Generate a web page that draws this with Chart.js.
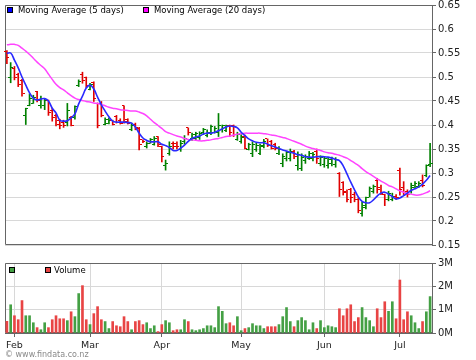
<!DOCTYPE html>
<html>
<head>
<meta charset="utf-8">
<script src="https://cdn.jsdelivr.net/npm/chart.js@4.4.1/dist/chart.umd.min.js"></script>
<style>
  html, body { margin: 0; padding: 0; background: #fff; }
  #wrap { position: relative; width: 476px; height: 360px; overflow: hidden; font-family: "DejaVu Sans", Verdana, sans-serif; }
  canvas { position: absolute; left: 0; }
  #price { top: 0; }
  #volume { top: 250px; }
  .sw { position: absolute; width: 4px; height: 4px; border: 1px solid #000; }
  .txt { position: absolute; font-size: 8.5px; line-height: 10px; color: #000; white-space: nowrap; }
  #footer { position: absolute; left: 5px; top: 350px; font-size: 8px; line-height: 10px; color: #888; white-space: nowrap; }
</style>
</head>
<body>
<div id="wrap">
  <canvas id="price" width="476" height="250"></canvas>
  <canvas id="volume" width="476" height="110"></canvas>

  <div class="sw" style="left:7px;top:7px;background:#0000ff"></div>
  <div class="txt" style="left:18px;top:5px">Moving Average (5 days)</div>
  <div class="sw" style="left:143px;top:7px;background:#ff00ff"></div>
  <div class="txt" style="left:154px;top:5px">Moving Average (20 days)</div>

  <div class="sw" style="left:9px;top:267px;background:#44a044"></div>
  <div class="sw" style="left:45px;top:267px;background:#e84444"></div>
  <div class="txt" style="left:54px;top:265px">Volume</div>

  <div id="footer">© www.findata.co.nz</div>
</div>
<script>
// Trading days, Jan 30 - Jul 11
const monthNames = ['Jan', 'Feb', 'Mar', 'Apr', 'May', 'Jun', 'Jul'];
const janDays = [30, 31];
const febDays = [1, 4, 5, 7, 8, 11, 12, 13, 14, 15, 18, 19, 20, 21, 22, 25, 26, 27, 28, 29];
const marDays = [3, 4, 5, 6, 7, 10, 11, 12, 13, 14, 17, 18, 19, 20, 25, 26, 27, 28, 31];
const aprDays = [1, 2, 3, 4, 7, 8, 9, 10, 11, 14, 15, 16, 17, 18, 21, 22, 23, 24, 28, 29, 30];
const mayDays = [1, 2, 5, 6, 7, 8, 9, 12, 13, 14, 15, 16, 19, 20, 21, 22, 23, 26, 27, 28, 29, 30];
const junDays = [3, 4, 5, 6, 9, 10, 11, 12, 13, 16, 17, 18, 19, 20, 23, 24, 25, 26, 27, 30];
const julDays = [1, 2, 3, 4, 7, 8, 9, 10, 11];

// Prices (one value per trading day)
const opens = [
    .553, .500, .518, .505, .492, .420, .440, .445, .470, .440, .440, .450, .430, .420, .410, .405, .405, .415, .415, .482, .505, .498,
    .475, .488, .445, .445, .402, .404, .410, .418, .410, .440, .412, .390, .402, .392, .369, .355, .362, .360, .376,
    .355, .315, .340, .362, .362, .350, .365, .394, .372, .372, .375, .385, .378, .382, .385, .385, .390, .388, .400, .398, .370,
    .365, .376, .350, .340, .348, .340, .355, .371, .365, .360, .340, .320, .330, .330, .345, .315, .310, .325, .330, .330, .345, .320,
    .318, .315, .320, .318, .300, .280, .262, .265, .255, .245, .215, .228, .250, .262, .285, .270, .255, .245, .245, .252,
    .305, .270, .262, .262, .270, .272, .285, .295, .318
];
const highs = [
    .555, .530, .522, .508, .495, .435, .465, .462, .470, .460, .455, .452, .435, .422, .412, .410, .445, .418, .440, .494, .510, .500,
    .487, .490, .446, .449, .415, .415, .410, .420, .413, .440, .413, .404, .404, .395, .369, .365, .372, .376, .376,
    .356, .327, .365, .365, .365, .368, .378, .394, .383, .385, .386, .393, .390, .400, .397, .424, .400, .400, .400, .400, .385,
    .380, .379, .362, .365, .362, .360, .370, .371, .368, .362, .355, .340, .345, .350, .347, .344, .340, .338, .345, .343, .350, .336,
    .333, .331, .333, .332, .301, .282, .265, .268, .260, .248, .240, .250, .271, .275, .289, .275, .256, .262, .258, .255,
    .310, .282, .265, .279, .282, .282, .296, .317, .362
];
const lows = [
    .528, .488, .494, .480, .460, .401, .440, .445, .448, .435, .432, .420, .408, .398, .392, .395, .398, .398, .412, .480, .487, .478,
    .473, .449, .394, .417, .400, .402, .400, .404, .402, .404, .402, .388, .390, .348, .363, .352, .362, .358, .355,
    .323, .306, .337, .350, .350, .345, .360, .379, .368, .368, .370, .380, .375, .380, .383, .376, .385, .386, .376, .376, .368,
    .362, .350, .348, .334, .345, .338, .352, .355, .350, .348, .338, .313, .325, .325, .330, .306, .305, .320, .328, .325, .320, .315,
    .312, .310, .315, .312, .251, .254, .240, .238, .240, .217, .210, .225, .250, .258, .258, .255, .232, .242, .242, .245,
    .254, .255, .250, .258, .268, .270, .271, .292, .313
];
const closes = [
    .540, .520, .500, .485, .465, .435, .455, .458, .452, .456, .452, .425, .415, .402, .398, .400, .430, .400, .438, .490, .492, .482,
    .485, .455, .400, .420, .412, .410, .402, .406, .404, .408, .404, .400, .394, .360, .365, .362, .370, .372, .360,
    .335, .320, .355, .355, .356, .362, .372, .385, .380, .382, .383, .390, .385, .396, .393, .400, .398, .398, .385, .380, .380,
    .375, .352, .360, .360, .358, .357, .366, .358, .352, .352, .350, .335, .342, .345, .335, .338, .333, .335, .340, .338, .330, .332,
    .330, .328, .330, .329, .265, .260, .245, .250, .245, .222, .232, .248, .268, .272, .265, .258, .245, .258, .252, .248,
    .265, .260, .255, .275, .278, .278, .275, .315, .320
];

// Moving averages as drawn
const ma5 = [
    .549, .550, .535, .519, .500, .483, .467, .456, .452, .454, .455, .450, .435, .425, .410, .408, .409, .415, .423, .444, .460, .477,
    .483, .475, .458, .442, .429, .417, .408, .406, .406, .406, .405, .404, .396, .383, .373, .368, .365, .365, .365,
    .360, .357, .353, .347, .347, .352, .358, .366, .372, .375, .377, .381, .383, .383, .385, .388, .392, .396, .398, .397, .394,
    .385, .378, .371, .367, .364, .363, .363, .360, .357, .354, .351, .348, .346, .343, .341, .338, .337, .334, .333, .333, .334, .334,
    .334, .333, .331, .328, .326, .315, .298, .281, .265, .250, .241, .238, .238, .244, .252, .258, .260, .256, .251, .246,
    .248, .253, .258, .264, .267, .271, .277, .285, .295
];
const ma20 = [
    .567, .568, .568, .566, .560, .554, .547, .539, .531, .524, .517, .506, .495, .485, .478, .473, .467, .461, .456, .453, .451, .449,
    .448, .446, .445, .443, .440, .437, .435, .434, .432, .431, .430, .429, .429, .427, .424, .419, .412, .405, .399,
    .393, .386, .383, .380, .377, .375, .372, .370, .369, .368, .367, .367, .368, .369, .371, .372, .374, .376, .377, .379, .381,
    .382, .383, .383, .383, .383, .383, .382, .381, .379, .378, .376, .374, .372, .369, .366, .363, .360, .356, .353, .351, .349, .347,
    .344, .342, .341, .339, .337, .334, .331, .326, .321, .316, .309, .303, .298, .293, .288, .283, .279, .274, .271, .267,
    .263, .260, .257, .256, .254, .254, .256, .259, .263
];

// Volume, millions of shares
const volumeM = [
    .50, 1.21, .74, .57, 1.39, .74, .74, .44, .23, .14, .44, .23, .57, .74, .61, .61, .53, .91, .70, 1.69, 2.03, .57,
    .36, .83, 1.13, .57, .49, .19, .49, .31, .27, .70, .49, .14, .49, .53, .36, .44, .19, .31, .06,
    .36, .53, .44, .10, .14, .14, .57, .49, .14, .10, .14, .19, .31, .31, .23, 1.13, .93, .40, .44, .31, .70,
    .10, .19, .23, .40, .31, .31, .19, .27, .27, .27, .36, .70, 1.09, .49, .27, .53, .66, .53, .14, .44, .19, .53,
    .23, .31, .27, .23, 1.04, .74, 1.04, 1.21, .49, .66, 1.09, .66, .53, .27, 1.04, .66, 1.34, .93, 1.34, .61,
    2.27, .57, .91, .74, .44, .19, .49, .91, 1.56
];

const priceTicks = [0.15, 0.65];
const volumeTicks = [0, 3];

// Build labels and month boundaries
const labels = [];
const monthStart = new Set();
[janDays, febDays, marDays, aprDays, mayDays, junDays, julDays].forEach((days, m) => {
    days.forEach((d, k) => {
        if (k === 0 && m > 0) monthStart.add(labels.length);
        labels.push(monthNames[m] + ' ' + d);
    });
});

const isUp = closes.map((c, i) => c >= opens[i]);
const priceColors = isUp.map(u => u ? '#008000' : '#e00000');
const volumeColors = isUp.map(u => u ? '#44a044' : '#e84444');

Chart.defaults.font.family = '"DejaVu Sans", Verdana, sans-serif';
Chart.defaults.color = '#222';

const AXIS = '#666';
const GRID = '#d8d8d8';
const CLEAR = 'rgba(0,0,0,0)';

// fixed axis sizes, no extra room for the end labels
function fixWidth(s) {
    s.width = 44;
    s.paddingTop = 0;
    s.paddingBottom = 0;
}

// Top and left frame lines of the plot area
const framePlugin = {
    id: 'frame',
    beforeDatasetsDraw(chart) {
        const { ctx, chartArea: a } = chart;
        ctx.save();
        ctx.strokeStyle = AXIS;
        ctx.lineWidth = 1;
        ctx.beginPath();
        ctx.moveTo(a.right, a.top + 0.5);
        ctx.lineTo(a.left + 0.5, a.top + 0.5);
        ctx.lineTo(a.left + 0.5, a.bottom - 0.5);
        ctx.lineTo(a.right, a.bottom - 0.5);
        ctx.stroke();
        ctx.restore();
    }
};

// Open (left) and close (right) ticks on the high-low bars
const ohlcTicks = {
    id: 'ohlcTicks',
    afterDatasetDraw(chart, args) {
        if (args.index !== 0) return;
        const { ctx, scales: { x, y } } = chart;
        ctx.save();
        closes.forEach((c, i) => {
            const px = Math.floor(x.getPixelForValue(i));
            ctx.fillStyle = priceColors[i];
            ctx.fillRect(px - 2, Math.floor(y.getPixelForValue(opens[i])), 2, 1);
            ctx.fillRect(px + 1, Math.floor(y.getPixelForValue(c)), 2, 1);
        });
        ctx.restore();
    }
};

new Chart(document.getElementById('price'), {
    type: 'bar',
    data: {
        labels: labels,
        datasets: [{
            data: highs.map((h, i) => [lows[i], h]),
            backgroundColor: priceColors,
            barThickness: 1,
            order: 2
        }, {
            type: 'line',
            data: ma5,
            borderColor: '#2a2aff',
            borderWidth: 1.6,
            pointRadius: 0,
            tension: 0.4,
            order: 0
        }, {
            type: 'line',
            data: ma20,
            borderColor: '#ff44ff',
            borderWidth: 1.5,
            pointRadius: 0,
            tension: 0.4,
            order: 1
        }]
    },
    options: {
        responsive: false,
        animation: false,
        events: [],
        layout: { padding: { left: 5, top: 5, right: 0, bottom: 5 } },
        plugins: { legend: { display: false }, tooltip: { enabled: false } },
        scales: {
            x: { display: false, offset: true },
            y: {
                position: 'right',
                min: priceTicks[0],
                max: priceTicks[1],
                ticks: {
                    stepSize: 0.05,
                    padding: 2,
                    font: { size: 10 },
                    color: '#222',
                    callback: v => String(Number(v.toFixed(2)))
                },
                grid: { color: GRID, tickColor: AXIS, tickLength: 4 },
                border: { color: AXIS },
                afterFit: fixWidth
            }
        }
    },
    plugins: [framePlugin, ohlcTicks]
});

new Chart(document.getElementById('volume'), {
    type: 'bar',
    data: {
        labels: labels,
        datasets: [{
            data: volumeM,
            backgroundColor: volumeColors,
            barThickness: 2
        }]
    },
    options: {
        responsive: false,
        animation: false,
        events: [],
        layout: { padding: { left: 5, top: 13, right: 0, bottom: 0 } },
        plugins: { legend: { display: false }, tooltip: { enabled: false } },
        scales: {
            x: {
                offset: true,
                ticks: {
                    autoSkip: false,
                    maxRotation: 0,
                    padding: 3,
                    font: { size: 9.5 },
                    color: '#222',
                    callback: (v, i) => monthStart.has(i) ? labels[i].split(' ')[0] : ''
                },
                grid: {
                    offset: false,
                    tickLength: 4,
                    color: c => monthStart.has(c.index) ? GRID : CLEAR,
                    tickColor: c => monthStart.has(c.index) ? AXIS : CLEAR
                },
                border: { color: AXIS },
                afterFit: s => {
                    s.height = 27;
                    s.paddingLeft = 0;
                    s.paddingRight = 0;
                }
            },
            y: {
                position: 'right',
                min: volumeTicks[0],
                max: volumeTicks[1],
                ticks: {
                    stepSize: 1,
                    padding: 2,
                    font: { size: 10 },
                    color: '#222',
                    callback: v => v + 'M'
                },
                grid: { color: GRID, tickColor: AXIS, tickLength: 4 },
                border: { color: AXIS },
                afterFit: fixWidth
            }
        }
    },
    plugins: [framePlugin]
});
</script>
</body>
</html>
